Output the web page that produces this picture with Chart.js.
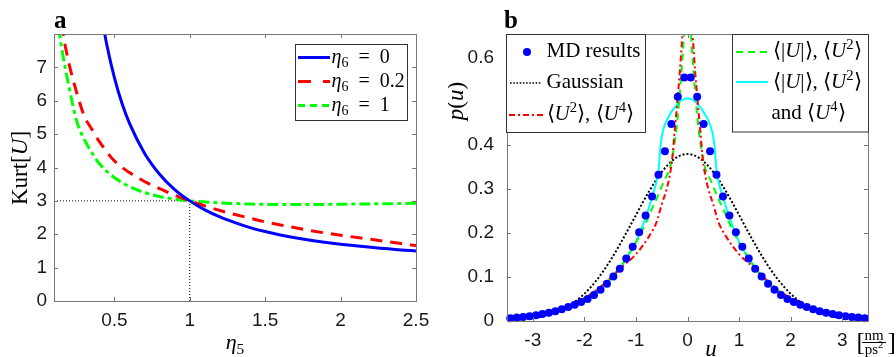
<!DOCTYPE html>
<html><head><meta charset="utf-8">
<script src="https://cdn.jsdelivr.net/npm/chart.js@4.4.0/dist/chart.umd.min.js"></script>
<style>
html,body{margin:0;padding:0;background:#fff;}
#wrap{position:relative;width:896px;height:357px;overflow:hidden;background:#fff;}
canvas{position:absolute;top:0;}
#ca{left:0;} #cb{left:448px;}
</style></head><body>
<div id="wrap"><canvas id="ca" width="448" height="357"></canvas><canvas id="cb" width="448" height="357"></canvas></div>
<script>
// ---------- Panel a data: Kurt[U] vs eta5 ----------
const eta5_eta6_0  = [0.42,0.45,0.5,0.55,0.6,0.7,0.8,0.9,1.0,1.1,1.2,1.3,1.4,1.5,1.6,1.8,2.0,2.2,2.4,2.5];
const kurt_eta6_0  = [8.41,7.68,6.70,5.93,5.33,4.43,3.80,3.34,3.00,2.73,2.52,2.35,2.20,2.08,1.98,1.82,1.70,1.61,1.53,1.50];
const eta5_eta6_02 = [0.15,0.17,0.2,0.25,0.3,0.35,0.4,0.5,0.6,0.7,0.8,0.9,1.0,1.1,1.2,1.3,1.4,1.5,1.6,1.8,2.0,2.2,2.4,2.5];
const kurt_eta6_02 = [8.3,7.75,7.1,6.25,5.55,5.15,4.78,4.2,3.85,3.58,3.37,3.17,3.0,2.85,2.71,2.59,2.48,2.37,2.28,2.11,1.97,1.85,1.72,1.66];
const eta5_eta6_1  = [0.13,0.15,0.2,0.25,0.3,0.35,0.4,0.5,0.6,0.7,0.8,0.9,1.0,1.2,1.4,1.6,1.8,2.0,2.2,2.4,2.5];
const kurt_eta6_1  = [8.2,7.6,6.4,5.4,4.85,4.45,4.12,3.7,3.43,3.25,3.13,3.05,3.0,2.94,2.905,2.89,2.89,2.9,2.91,2.92,2.93];
const refH_x = [0.1, 1.0], refH_y = [3, 3];
const refV_x = [1.0, 1.0], refV_y = [0, 3];
const xTicksA = [0.5,1,1.5,2,2.5];
const yTicksA = [0,1,2,3,4,5,6,7];

// ---------- Panel b data: p(u) vs u ----------
const mdU = [-3.4375,-3.3125,-3.1875,-3.0625,-2.9375,-2.8125,-2.6875,-2.5625,-2.4375,-2.3125,-2.1875,-2.0625,-1.9375,-1.8125,-1.6875,-1.5625,-1.4375,-1.3125,-1.1875,-1.0625,-0.9375,-0.8125,-0.6875,-0.5625,-0.4375,-0.3125,-0.1875,-0.0625,
             0.0625,0.1875,0.3125,0.4375,0.5625,0.6875,0.8125,0.9375,1.0625,1.1875,1.3125,1.4375,1.5625,1.6875,1.8125,1.9375,2.0625,2.1875,2.3125,2.4375,2.5625,2.6875,2.8125,2.9375,3.0625,3.1875,3.3125,3.4375];
const mdP = [0.006,0.008,0.009,0.011,0.013,0.016,0.019,0.022,0.027,0.032,0.037,0.043,0.050,0.059,0.071,0.085,0.101,0.119,0.142,0.169,0.202,0.240,0.283,0.333,0.386,0.448,0.510,0.554,
             0.554,0.510,0.448,0.386,0.333,0.283,0.240,0.202,0.169,0.142,0.119,0.101,0.085,0.071,0.059,0.050,0.043,0.037,0.032,0.027,0.022,0.019,0.016,0.013,0.011,0.009,0.008,0.006];
const gaussU = [-3.5,-3.25,-3,-2.75,-2.5,-2.25,-2,-1.75,-1.5,-1.25,-1,-0.75,-0.5,-0.25,0,0.25,0.5,0.75,1,1.25,1.5,1.75,2,2.25,2.5,2.75,3,3.25,3.5];
const gaussP = [0.0015,0.0032,0.0064,0.0123,0.0224,0.0383,0.0620,0.0948,0.137,0.187,0.241,0.294,0.339,0.369,0.380,0.369,0.339,0.294,0.241,0.187,0.137,0.0948,0.0620,0.0383,0.0224,0.0123,0.0064,0.0032,0.0015];
const u2u4U = [-3.5,-3.25,-3,-2.75,-2.5,-2.25,-2,-1.75,-1.5,-1.25,-1,-0.75,-0.6,-0.5,-0.4,-0.35,-0.3,-0.25,-0.2,-0.15,-0.1,-0.05,0,
               0.05,0.1,0.15,0.2,0.25,0.3,0.35,0.4,0.5,0.6,0.75,1,1.25,1.5,1.75,2,2.25,2.5,2.75,3,3.25,3.5];
const u2u4P = [0.006,0.009,0.013,0.019,0.027,0.038,0.052,0.072,0.097,0.125,0.152,0.192,0.225,0.265,0.302,0.328,0.365,0.43,0.495,0.565,0.65,0.74,0.85,
               0.74,0.65,0.565,0.495,0.43,0.365,0.328,0.302,0.265,0.225,0.192,0.152,0.125,0.097,0.072,0.052,0.038,0.027,0.019,0.013,0.009,0.006];
const absU2U = [-3.5,-3.25,-3,-2.75,-2.5,-2.25,-2,-1.75,-1.5,-1.25,-0.97,-0.84,-0.71,-0.58,-0.45,-0.35,-0.3,-0.225,-0.16,-0.11,-0.07,-0.04,0,
                0.04,0.07,0.11,0.16,0.225,0.3,0.35,0.45,0.58,0.71,0.84,0.97,1.25,1.5,1.75,2,2.25,2.5,2.75,3,3.25,3.5];
const absU2P = [0.006,0.009,0.013,0.019,0.027,0.037,0.051,0.07,0.096,0.132,0.185,0.215,0.25,0.283,0.32,0.345,0.37,0.426,0.502,0.578,0.65,0.75,0.95,
                0.75,0.65,0.578,0.502,0.426,0.37,0.345,0.32,0.283,0.25,0.215,0.185,0.132,0.096,0.07,0.051,0.037,0.027,0.019,0.013,0.009,0.006];
const allU = [-3.5,-3.25,-3,-2.75,-2.5,-2.25,-2,-1.75,-1.5,-1.25,-1,-0.9,-0.8,-0.7,-0.6,-0.56,-0.53,-0.5,-0.47,-0.4,-0.3,-0.2,-0.1,0,
              0.1,0.2,0.3,0.4,0.47,0.5,0.53,0.56,0.6,0.7,0.8,0.9,1,1.25,1.5,1.75,2,2.25,2.5,2.75,3,3.25,3.5];
const allP = [0.006,0.009,0.013,0.019,0.027,0.037,0.05,0.068,0.093,0.13,0.18,0.208,0.24,0.277,0.318,0.345,0.39,0.418,0.435,0.457,0.478,0.493,0.503,0.506,
              0.503,0.493,0.478,0.457,0.435,0.418,0.39,0.345,0.318,0.277,0.24,0.208,0.18,0.13,0.093,0.068,0.05,0.037,0.027,0.019,0.013,0.009,0.006];
const xTicksB = [-3,-2,-1,0,1,2,3];
const yTicksB = [0,0.1,0.2,0.3,0.4,0.6];

// ---------- helpers ----------
const SERIF = '"Liberation Serif","Times New Roman",serif';
const SANS = '"Liberation Sans",Arial,sans-serif';
const zip = (xs, ys) => xs.map((v, i) => ({x: v, y: ys[i]}));
const SUP = {sc: 0.7, dy: -0.4}, SUB = {sc: 0.7, dy: 0.22};
function segFont(s, size){ return (s.b?'bold ':'') + (s.it?'italic ':'') + (size*(s.sc||1)).toFixed(1) + 'px ' + SERIF; }
function richWidth(ctx, segs, size){ let w = 0; for (const s of segs){ ctx.font = segFont(s, size); w += ctx.measureText(s.t).width; } return w; }
function drawRich(ctx, segs, x, y, size, align){
  const w = richWidth(ctx, segs, size);
  let cx = align === 'center' ? x - w/2 : (align === 'right' ? x - w : x);
  ctx.textBaseline = 'alphabetic'; ctx.textAlign = 'left'; ctx.fillStyle = '#000';
  for (const s of segs){ ctx.font = segFont(s, size); ctx.fillText(s.t, cx, y + (s.dy||0)*size); cx += ctx.measureText(s.t).width; }
}
function sample(ctx, x0, x1, y, color, w, dash){
  ctx.save(); ctx.strokeStyle = color; ctx.lineWidth = w; ctx.setLineDash(dash); ctx.lineCap = 'butt';
  ctx.beginPath(); ctx.moveTo(x0, y); ctx.lineTo(x1, y); ctx.stroke(); ctx.restore();
}
function frame(chart, xt, yt){
  const {ctx, chartArea: a, scales: {x, y}} = chart;
  ctx.save(); ctx.strokeStyle = '#777'; ctx.lineWidth = 1; ctx.setLineDash([]);
  ctx.beginPath();
  for (const v of xt){ const px = Math.round(x.getPixelForValue(v)) + 0.5; ctx.moveTo(px, a.bottom); ctx.lineTo(px, a.bottom - 4); ctx.moveTo(px, a.top); ctx.lineTo(px, a.top + 4); }
  for (const v of yt){ const py = Math.round(y.getPixelForValue(v)) + 0.5; ctx.moveTo(a.left, py); ctx.lineTo(a.left + 4, py); ctx.moveTo(a.right, py); ctx.lineTo(a.right - 4, py); }
  ctx.stroke();
  ctx.strokeRect(Math.round(a.left) + 0.5, Math.round(a.top) + 0.5, Math.round(a.right - a.left), Math.round(a.bottom - a.top));
  ctx.restore();
}
function lineDs(xs, ys, color, w, dash, order){
  return {data: zip(xs, ys), showLine: true, borderColor: color, backgroundColor: color, borderWidth: w, borderDash: dash,
          pointRadius: 0, cubicInterpolationMode: 'monotone', order: order, clip: 0, borderCapStyle: 'butt'};
}
function axis(min, max, ticks, fitKey, fitVal, pad){
  return {type: 'linear', min: min, max: max,
    afterBuildTicks: s => { s.ticks = ticks.map(v => ({value: v})); },
    afterFit: s => { s[fitKey] = fitVal; },
    grid: {display: false, drawTicks: false}, border: {display: false},
    ticks: {padding: pad, autoSkip: false, maxRotation: 0, color: '#1a1a1a', font: {family: SANS, size: 19}, callback: v => String(v)}};
}
const common = {responsive: false, animation: false, devicePixelRatio: 1, events: [],
  plugins: {legend: {display: false}, tooltip: {enabled: false}}};

// ---------- Panel a ----------
new Chart(document.getElementById('ca'), {
  type: 'scatter',
  data: {datasets: [
    lineDs(eta5_eta6_0, kurt_eta6_0, '#0000ff', 3, [], 1),
    lineDs(eta5_eta6_02, kurt_eta6_02, '#ff0000', 3, [12, 8], 2),
    lineDs(eta5_eta6_1, kurt_eta6_1, '#00ff00', 3, [11, 4, 4, 4], 3),
    Object.assign(lineDs(refH_x, refH_y, '#000', 1, [1, 2], 4), {cubicInterpolationMode: 'default'}),
    Object.assign(lineDs(refV_x, refV_y, '#000', 1, [1, 2], 4), {cubicInterpolationMode: 'default'})
  ]},
  options: Object.assign({}, common, {
    layout: {padding: {left: 0, right: 32, top: 34, bottom: 0}},
    scales: {x: axis(0.1, 2.5, xTicksA, 'height', 56, 8), y: axis(0, 8, yTicksA, 'width', 54, 7)}
  }),
  plugins: [{id: 'decoA', afterDatasetsDraw(chart){
    const ctx = chart.ctx;
    frame(chart, xTicksA, yTicksA);
    ctx.save();
    ctx.fillStyle = '#fff'; ctx.fillRect(295, 44, 113, 76);
    ctx.strokeStyle = '#333'; ctx.lineWidth = 1; ctx.setLineDash([]); ctx.strokeRect(295.5, 44.5, 112, 76);
    sample(ctx, 298, 330, 57.5, '#0000ff', 3, []);
    sample(ctx, 298, 330, 81.5, '#ff0000', 3, [13, 12]);
    sample(ctx, 298, 330, 105.5, '#00ff00', 3, [7, 5]);
    const eq = v => [{t: 'η', it: 1}, Object.assign({t: '6'}, SUB), {t: '\u2002=\u2002'}, {t: v}];
    drawRich(ctx, eq('0'), 331.5, 63, 20);
    drawRich(ctx, eq('0.2'), 331.5, 87, 20);
    drawRich(ctx, eq('1'), 331.5, 111, 20);
    // panel label
    drawRich(ctx, [{t: 'a', b: 1}], 54, 27.5, 25);
    // axis titles
    drawRich(ctx, [{t: 'η', it: 1}, Object.assign({t: '5'}, SUB)], 235, 349, 22, 'center');
    ctx.save(); ctx.translate(27, 168); ctx.rotate(-Math.PI/2);
    drawRich(ctx, [{t: 'Kurt['}, {t: 'U', it: 1}, {t: ']'}], 0, 0, 23, 'center');
    ctx.restore();
    ctx.restore();
  }}]
});

// ---------- Panel b ----------
new Chart(document.getElementById('cb'), {
  type: 'scatter',
  data: {datasets: [
    {data: zip(mdU, mdP), showLine: false, pointRadius: 4, pointBorderWidth: 0, pointBackgroundColor: '#0000ff',
     borderColor: '#0000ff', backgroundColor: '#0000ff', order: 0, clip: false},
    lineDs(u2u4U, u2u4P, '#ff0000', 2, [6, 3, 2, 3], 1),
    lineDs(absU2U, absU2P, '#00ff00', 2, [7, 5], 2),
    lineDs(allU, allP, '#00ffff', 2, [], 3),
    lineDs(gaussU, gaussP, '#000000', 2, [2, 2], 4)
  ]},
  options: Object.assign({}, common, {
    layout: {padding: {left: 0, right: 28, top: 34, bottom: 0}},
    scales: {x: axis(-3.5, 3.5, xTicksB, 'height', 36, 8), y: axis(0, 0.653, yTicksB, 'width', 59, 13)}
  }),
  plugins: [{id: 'decoB', afterDatasetsDraw(chart){
    const ctx = chart.ctx;
    frame(chart, xTicksB, yTicksB);
    ctx.save();
    ctx.fillStyle = '#fff'; ctx.fillRect(59, 35, 139, 97); ctx.fillRect(285, 35, 136, 97);
    ctx.strokeStyle = '#333'; ctx.lineWidth = 1; ctx.setLineDash([]);
    ctx.strokeRect(58.5, 34.5, 139, 98); ctx.strokeRect(284.5, 34.5, 136, 97.5);
    ctx.fillStyle = '#0000ff'; ctx.beginPath(); ctx.arc(79, 52, 4, 0, 2*Math.PI); ctx.fill();
    sample(ctx, 62, 94, 83, '#000', 1.6, [1.6, 1.6]);
    sample(ctx, 61, 95, 115, '#ff0000', 2, [6, 3, 2, 3]);
    sample(ctx, 288, 320, 52, '#00ff00', 2, [7, 5]);
    sample(ctx, 288, 320, 82, '#00ffff', 2, []);
    drawRich(ctx, [{t: 'MD results'}], 98.5, 57, 21);
    drawRich(ctx, [{t: 'Gaussian'}], 98.5, 88, 21);
    drawRich(ctx, [{t: '⟨'}, {t: 'U', it: 1}, Object.assign({t: '2'}, SUP), {t: '⟩, ⟨'}, {t: 'U', it: 1}, Object.assign({t: '4'}, SUP), {t: '⟩'}], 98.5, 120, 21);
    drawRich(ctx, [{t: '⟨|'}, {t: 'U', it: 1}, {t: '|⟩, ⟨'}, {t: 'U', it: 1}, Object.assign({t: '2'}, SUP), {t: '⟩'}], 325, 57, 21);
    drawRich(ctx, [{t: '⟨|'}, {t: 'U', it: 1}, {t: '|⟩, ⟨'}, {t: 'U', it: 1}, Object.assign({t: '2'}, SUP), {t: '⟩'}], 325, 88, 21);
    drawRich(ctx, [{t: 'and ⟨'}, {t: 'U', it: 1}, Object.assign({t: '4'}, SUP), {t: '⟩'}], 323.5, 119, 21);
    // panel label
    drawRich(ctx, [{t: 'b', b: 1}], 56, 27.5, 25);
    // axis titles
    drawRich(ctx, [{t: 'u', it: 1}], 263, 356, 23, 'center');
    ctx.save(); ctx.translate(15, 101); ctx.rotate(-Math.PI/2);
    drawRich(ctx, [{t: 'p', it: 1}, {t: '('}, {t: 'u', it: 1}, {t: ')'}], 0, 0, 23, 'center');
    ctx.restore();
    // unit label [nm / ps^2]
    drawRich(ctx, [{t: '['}], 408.5, 350, 25);
    drawRich(ctx, [{t: ']'}], 439.5, 350, 25);
    drawRich(ctx, [{t: 'nm'}], 426, 340, 15, 'center');
    drawRich(ctx, [{t: 'ps'}, Object.assign({t: '2'}, SUP)], 426, 354, 15, 'center');
    ctx.fillStyle = '#000'; ctx.fillRect(414, 342, 24, 1);
    ctx.restore();
  }}]
});
</script>
</body></html>
